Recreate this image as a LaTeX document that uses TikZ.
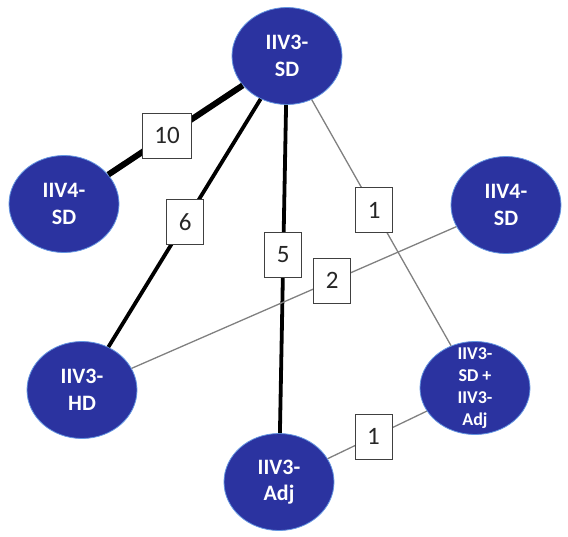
\documentclass[tikz,border=0pt]{standalone}
\usepackage{fontspec}
\setmainfont{Carlito}
\usetikzlibrary{shapes.geometric}
\definecolor{strainblue}{RGB}{43, 51, 160}
\definecolor{rimblue}{RGB}{100, 150, 225}
\definecolor{linkgray}{RGB}{128, 128, 128}

\begin{document}
\begin{tikzpicture}[x=1pt, y=-1pt,
  strain/.style={ellipse, fill=strainblue, draw=rimblue, line width=0.8pt, minimum width=110pt, minimum height=97pt, inner sep=0pt, align=center, text=white, font=\fontsize{22}{26.5}\selectfont\bfseries},
  combotext/.style={align=center, text=white, inner sep=0pt, font=\fontsize{18}{22}\selectfont\bfseries},
  count/.style={draw=black!75, fill=white, line width=0.9pt, minimum width=37pt, minimum height=45pt, inner xsep=12pt, font=\fontsize{25}{30}\selectfont, text=black!85},
  heavy/.style={line width=6pt},
  strong/.style={line width=3.8pt},
  weak/.style={draw=linkgray, line width=1.3pt}]
  \useasboundingbox (0,0) rectangle (568,536);

  % Strains
  \node[strain] (sd3) at (287, 56) {IIV3-\\SD};
  \node[strain] (sd4l) at (64, 204) {IIV4-\\SD};
  \node[strain] (sd4r) at (506, 205) {IIV4-\\SD};
  \node[strain] (hd3) at (82, 390) {IIV3-\\HD};
  \node[strain] (adj3) at (279, 482) {IIV3-\\Adj};
  \node[strain, minimum height=93pt, label={[combotext]center:IIV3-\\SD +\\IIV3-\\Adj}] (combo) at (475, 388) {};

  % Links with counts
  \draw[heavy] (sd3) -- node[count, pos=0.563] (n10) {10} (sd4l);
  \draw[strong] (sd3) -- node[count, pos=0.496] (n6) {6} (hd3);
  \draw[strong] (sd3) -- node[count, pos=0.457] (n5) {5} (adj3);
  \draw[weak] (sd3) -- node[count, pos=0.449] (n1a) {1} (combo);
  \draw[weak] (hd3) -- node[count, pos=0.618] (n2) {2} (sd4r);
  \draw[weak] (adj3) -- node[count, pos=0.463] (n1b) {1} (combo);
\end{tikzpicture}
\end{document}
